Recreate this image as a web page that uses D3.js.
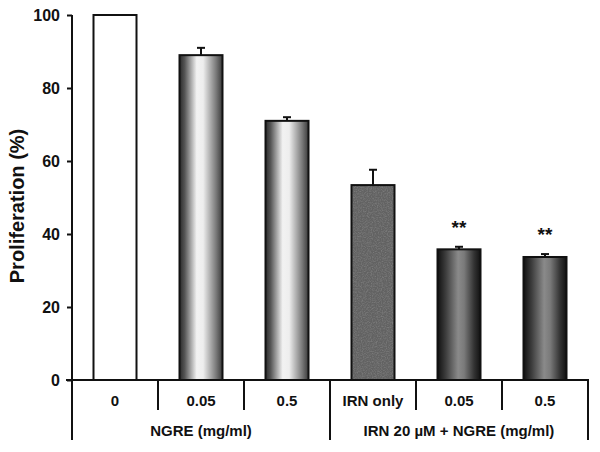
<!DOCTYPE html>
<html>
<head>
<meta charset="utf-8">
<script src="https://cdn.jsdelivr.net/npm/d3@7"></script>
<style>
  body { margin: 0; background: #fff; }
  text { font-family: "Liberation Sans", Arial, sans-serif; font-weight: bold; fill: #111; }
</style>
</head>
<body>
<div id="chart"></div>
<script>
// chart values
var categories = ["0", "0.05", "0.5", "IRN only", "0.05", "0.5"];
var values = [100, 89, 71, 53.4, 35.8, 33.7];
var errors = [0, 2, 1, 4.2, 0.7, 0.8];
var marks = ["", "", "", "", "**", "**"];
var groupLabels = ["NGRE (mg/ml)", "IRN 20 \u00b5M + NGRE (mg/ml)"];
var groupStarts = [0, 3];
var groupEnds = [3, 6];
var yTicks = [0, 20, 40, 60, 80, 100];

var svgWidth = 600;
var svgHeight = 452;

var svg = d3.select("#chart").append("svg")
  .attr("width", svgWidth)
  .attr("height", svgHeight);

// scales
var x = d3.scaleBand()
  .domain(d3.range(categories.length))
  .range([72, 588])
  .paddingInner(0.5)
  .paddingOuter(0.25);

var y = d3.scaleLinear().domain([0, 100]).range([380, 15]);

// gradients for the shaded bars
var defs = svg.append("defs");
function addGradient(id, stops) {
  var g = defs.append("linearGradient").attr("id", id)
    .attr("x1", "0%").attr("x2", "100%").attr("y1", "0%").attr("y2", "0%");
  stops.forEach(function(s) {
    g.append("stop").attr("offset", s[0]).attr("stop-color", s[1]);
  });
}
addGradient("lightCyl", [["0%", "#2a2a2a"], ["12%", "#555"], ["40%", "#f2f2f2"], ["55%", "#eeeeee"], ["85%", "#7a7a7a"], ["100%", "#3a3a3a"]]);
addGradient("darkCyl", [["0%", "#101010"], ["18%", "#3a3a3a"], ["48%", "#8a8a8a"], ["62%", "#7a7a7a"], ["85%", "#333"], ["100%", "#111"]]);

// grain overlay for the flat grey bar
var noise = defs.append("filter").attr("id", "grain")
  .attr("x", "0").attr("y", "0").attr("width", "100%").attr("height", "100%");
noise.append("feTurbulence").attr("type", "fractalNoise").attr("baseFrequency", "0.8")
  .attr("numOctaves", 2).attr("seed", 5).attr("result", "t");
noise.append("feColorMatrix").attr("in", "t").attr("type", "matrix")
  .attr("values", "0 0 0 0 0.25  0 0 0 0 0.25  0 0 0 0 0.25  1.4 0 0 0 -0.55");

function fillFor(i) {
  if (i === 0) return "#fff";
  if (i < 3) return "url(#lightCyl)";
  if (i === 3) return "#626262";
  return "url(#darkCyl)";
}

// bars
var barG = svg.append("g");
barG.selectAll("rect.bar").data(values).enter().append("rect")
  .attr("class", "bar")
  .attr("x", (d, i) => x(i))
  .attr("y", d => y(d))
  .attr("width", x.bandwidth())
  .attr("height", d => y(0) - y(d))
  .attr("fill", (d, i) => fillFor(i));

barG.append("rect")
  .attr("x", x(3)).attr("y", y(values[3]))
  .attr("width", x.bandwidth()).attr("height", y(0) - y(values[3]))
  .attr("filter", "url(#grain)");

barG.selectAll("rect.outline").data(values).enter().append("rect")
  .attr("class", "outline")
  .attr("x", (d, i) => x(i))
  .attr("y", d => y(d))
  .attr("width", x.bandwidth())
  .attr("height", d => y(0) - y(d))
  .attr("fill", "none")
  .attr("stroke", "#111")
  .attr("stroke-width", 2);

// error bars (upper only)
var errG = svg.append("g").attr("stroke", "#111").attr("stroke-width", 2);
values.forEach(function(v, i) {
  if (!errors[i]) return;
  var cx = x(i) + x.bandwidth() / 2;
  errG.append("line").attr("x1", cx).attr("x2", cx).attr("y1", y(v)).attr("y2", y(v + errors[i]));
  errG.append("line").attr("x1", cx - 4).attr("x2", cx + 4).attr("y1", y(v + errors[i])).attr("y2", y(v + errors[i]));
});

// significance marks
svg.append("g").selectAll("text").data(marks).enter().append("text")
  .attr("x", (d, i) => x(i) + x.bandwidth() / 2)
  .attr("y", (d, i) => y(values[i] + errors[i]) - 13)
  .attr("text-anchor", "middle")
  .style("font-size", "19px")
  .text(d => d);

// y axis
var yAxis = d3.axisLeft(y).tickValues(yTicks).tickSize(5).tickSizeOuter(0).tickPadding(7);
var yAxisG = svg.append("g").attr("transform", "translate(72,0)").call(yAxis);
yAxisG.select(".domain").remove();
yAxisG.selectAll(".tick line").attr("stroke", "#111").attr("stroke-width", 2);
yAxisG.selectAll(".tick text").style("font-size", "16px").style("font-family", "Liberation Sans, Arial, sans-serif")
  .attr("fill", "#111").attr("font-weight", "bold");

var axisG = svg.append("g").attr("stroke", "#111").attr("stroke-width", 2);
axisG.append("line").attr("x1", 72).attr("x2", 72).attr("y1", y(100)).attr("y2", 440);
axisG.append("line").attr("x1", 66).attr("x2", 589).attr("y1", y(0)).attr("y2", y(0));

// category table below the axis
var step = x.step();
var edges = d3.range(categories.length + 1).map(i => 72 + i * step);
edges.forEach(function(e, i) {
  if (i === 0) return;
  var isGroupEdge = groupEnds.indexOf(i) >= 0;
  axisG.append("line").attr("x1", e).attr("x2", e)
    .attr("y1", y(0)).attr("y2", isGroupEdge ? 440 : 410);
});

svg.append("g").selectAll("text").data(categories).enter().append("text")
  .attr("x", (d, i) => x(i) + x.bandwidth() / 2)
  .attr("y", 406)
  .attr("text-anchor", "middle")
  .style("font-size", "15px")
  .text(d => d);

svg.append("g").selectAll("text").data(groupLabels).enter().append("text")
  .attr("x", (d, i) => (edges[groupStarts[i]] + edges[groupEnds[i]]) / 2)
  .attr("y", 436)
  .attr("text-anchor", "middle")
  .style("font-size", "15px")
  .text(d => d);

// y label
svg.append("text")
  .attr("transform", "translate(24," + 206 + ") rotate(-90)")
  .attr("text-anchor", "middle")
  .style("font-size", "20px")
  .text("Proliferation (%)");
</script>
</body>
</html>
